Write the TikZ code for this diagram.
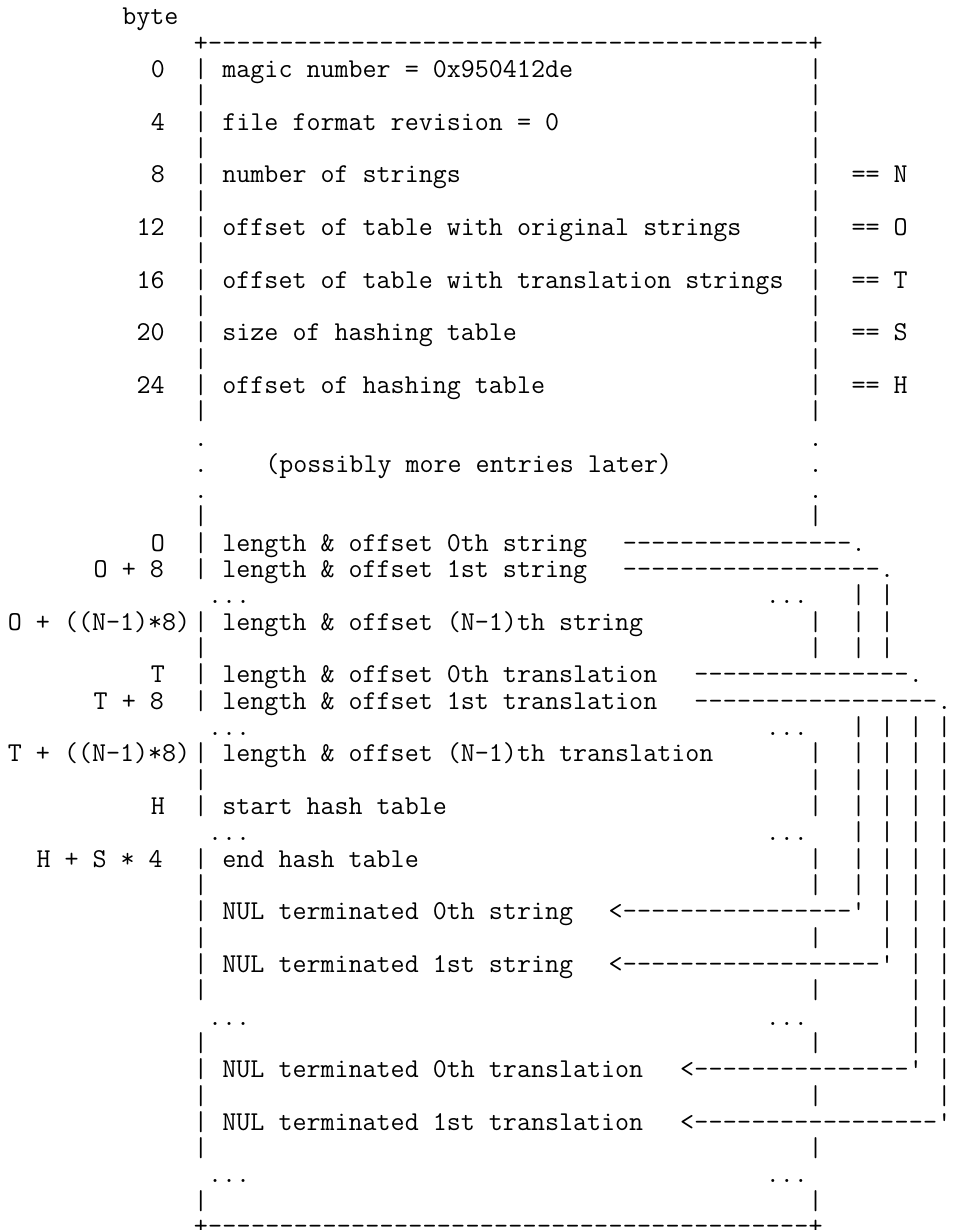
\documentclass[tikz,border=0pt]{standalone}
\begin{document}
\begin{tikzpicture}[x=0.75pt,y=-0.75pt,
  txt/.style={inner sep=0pt, outer sep=0pt, anchor=base west,
    font=\ttfamily\fontsize{20.43pt}{24pt}\selectfont, text=black}]
\newcounter{nd}
\newcommand\putc[3]{\stepcounter{nd}\node[txt] (n\arabic{nd}) at ({7.9+(#1)*14.3},{24.9+(#2)*26.32}) {#3};}
\newcommand\vbars[3]{\foreach \r in {#2,...,#3}{\putc{#1}{\r}{|}}}
\newcommand\drun[3]{\foreach \c in {#2,...,#3}{\putc{\c}{#1}{-}}}
\useasboundingbox[fill=white] (0,0) rectangle (952,1230);
% header and box frame
\putc{8}{0}{byte}
\putc{13}{1}{+}\drun{1}{14}{55}\putc{56}{1}{+}
\putc{13}{45.95}{+}\drun{45.95}{14}{55}\putc{56}{45.95}{+}
% left column bars
\vbars{13}{2}{15}\vbars{13}{19}{21}\vbars{13}{23}{26}\vbars{13}{28}{30}
\vbars{13}{32}{37}\vbars{13}{39}{43}\putc{13}{45}{|}
% right column bars
\vbars{56}{2}{15}
\foreach \r in {19,23,24,28,29,30,32,33,35,37,39,41,43,45}{\putc{56}{\r}{|}}
% dotted parts
\foreach \r in {16,17,18}{\putc{13}{\r}{.}\putc{56}{\r}{.}}
\putc{18}{17}{(possibly more entries later)}
\foreach \r in {22,27,31,38,44}{\putc{14}{\r}{...}\putc{53}{\r}{...}}
% offsets
\putc{10}{2}{0}\putc{10}{4}{4}\putc{10}{6}{8}
\putc{9}{8}{12}\putc{9}{10}{16}\putc{9}{12}{20}\putc{9}{14}{24}
\putc{10}{20}{O}\putc{6}{21}{O + 8}\putc{0}{23}{O + ((N-1)*8)}
\putc{10}{25}{T}\putc{6}{26}{T + 8}\putc{0}{28}{T + ((N-1)*8)}
\putc{10}{30}{H}\putc{2}{32}{H + S * 4}
% entries
\putc{15}{2}{magic number = 0x950412de}
\putc{15}{4}{file format revision = 0}
\putc{15}{6}{number of strings}
\putc{15}{8}{offset of table with original strings}
\putc{15}{10}{offset of table with translation strings}
\putc{15}{12}{size of hashing table}
\putc{15}{14}{offset of hashing table}
\putc{15}{20}{length \& offset 0th string}
\putc{15}{21}{length \& offset 1st string}
\putc{15}{23}{length \& offset (N-1)th string}
\putc{15}{25}{length \& offset 0th translation}
\putc{15}{26}{length \& offset 1st translation}
\putc{15}{28}{length \& offset (N-1)th translation}
\putc{15}{30}{start hash table}
\putc{15}{32}{end hash table}
\putc{15}{34}{NUL terminated 0th string}
\putc{15}{36}{NUL terminated 1st string}
\putc{15}{40}{NUL terminated 0th translation}
\putc{15}{42}{NUL terminated 1st translation}
% right labels
\putc{59}{6}{== N}\putc{59}{8}{== O}\putc{59}{10}{== T}
\putc{59}{12}{== S}\putc{59}{14}{== H}
% outgoing pointer lines
\drun{20}{43}{58}\putc{59}{20}{.}
\drun{21}{43}{60}\putc{61}{21}{.}
\drun{25}{48}{62}\putc{63}{25}{.}
\drun{26}{48}{64}\putc{65}{26}{.}
% vertical pointer lines
\vbars{59}{22}{24}\vbars{59}{27}{33}
\vbars{61}{22}{24}\vbars{61}{27}{35}
\vbars{63}{27}{39}
\vbars{65}{27}{41}
% incoming arrows
\putc{42}{34}{<}\drun{34}{43}{58}\putc{59}{34}{'}
\putc{42}{36}{<}\drun{36}{43}{60}\putc{61}{36}{'}
\putc{47}{40}{<}\drun{40}{48}{62}\putc{63}{40}{'}
\putc{47}{42}{<}\drun{42}{48}{64}\putc{65}{42}{'}
\end{tikzpicture}
\end{document}
